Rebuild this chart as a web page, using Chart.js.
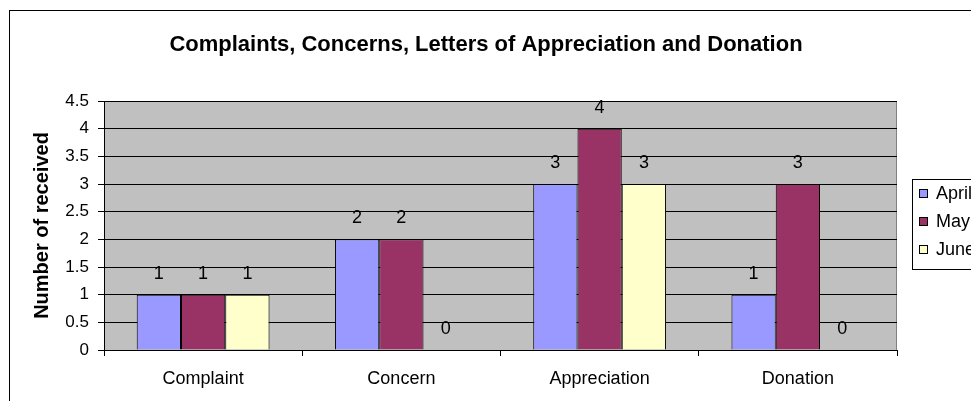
<!DOCTYPE html>
<html>
<head>
<meta charset="utf-8">
<script src="https://cdn.jsdelivr.net/npm/chart.js@4"></script>
<style>
  html, body { margin: 0; padding: 0; background: #fff; overflow: hidden; }
</style>
</head>
<body>
<canvas id="chart" width="971" height="401"></canvas>
<script>
// chart values
var categories = ['Complaint', 'Concern', 'Appreciation', 'Donation'];
var seriesNames = ['April', 'May', 'June'];
var aprilValues = [1, 2, 3, 1];
var mayValues = [1, 2, 4, 3];
var juneValues = [1, 0, 3, 0];
var yTicks = [0, 0.5, 1, 1.5, 2, 2.5, 3, 3.5, 4, 4.5];

var chartTitle = 'Complaints, Concerns, Letters of Appreciation and Donation';
var yTitle = 'Number of received';
var seriesColors = ['#9999FF', '#993366', '#FFFFCC'];
var fontFamily = '"Liberation Sans", Arial, sans-serif';

// background, plot area, title, value labels and the legend box
var excelLook = {
  id: 'excelLook',
  beforeDraw: function(chart) {
    var ctx = chart.ctx;
    var a = chart.chartArea;
    ctx.save();
    ctx.fillStyle = '#fff';
    ctx.fillRect(0, 0, chart.width, chart.height);
    ctx.strokeStyle = '#000';
    ctx.lineWidth = 1;
    ctx.strokeRect(9.5, 10.5, 2000, 2000);
    ctx.fillStyle = '#C0C0C0';
    ctx.fillRect(a.left, a.top, a.right - a.left, a.bottom - a.top);
    ctx.strokeStyle = '#808080';
    ctx.strokeRect(a.left + 0.5, a.top + 0.5, a.right - a.left - 1, a.bottom - a.top);
    ctx.restore();
  },
  afterDatasetsDraw: function(chart) {
    var ctx = chart.ctx;
    ctx.save();
    ctx.fillStyle = '#000';
    ctx.font = '18px ' + fontFamily;
    ctx.textAlign = 'center';
    ctx.textBaseline = 'middle';
    chart.data.datasets.forEach(function(ds, i) {
      chart.getDatasetMeta(i).data.forEach(function(bar, j) {
        ctx.fillText(String(ds.data[j]), bar.x, bar.y - 21);
      });
    });
    ctx.restore();
  },
  afterDraw: function(chart) {
    var ctx = chart.ctx;
    ctx.save();
    ctx.fillStyle = '#000';
    ctx.font = 'bold 22px ' + fontFamily;
    ctx.textAlign = 'center';
    ctx.textBaseline = 'middle';
    ctx.fillText(chartTitle, 486, 45);

    // legend
    ctx.strokeStyle = '#000';
    ctx.lineWidth = 1;
    ctx.fillStyle = '#fff';
    ctx.fillRect(912.5, 179.5, 100, 90);
    ctx.strokeRect(912.5, 179.5, 100, 90);
    ctx.font = '18px ' + fontFamily;
    ctx.textAlign = 'left';
    chart.data.datasets.forEach(function(ds, i) {
      var y = 194 + i * 28;
      ctx.fillStyle = ds.backgroundColor;
      ctx.fillRect(919.5, y - 4.5, 8, 8);
      ctx.strokeRect(919.5, y - 4.5, 8, 8);
      ctx.fillStyle = '#000';
      ctx.fillText(ds.label, 936, y);
    });
    ctx.restore();
  }
};

var datasets = [aprilValues, mayValues, juneValues].map(function(vals, i) {
  return {
    label: seriesNames[i],
    data: vals,
    backgroundColor: seriesColors[i],
    borderColor: '#000',
    borderWidth: 1,
    categoryPercentage: 0.67,
    barPercentage: 1.0
  };
});

new Chart(document.getElementById('chart'), {
  type: 'bar',
  data: { labels: categories, datasets: datasets },
  options: {
    responsive: false,
    animation: false,
    devicePixelRatio: 1,
    layout: { padding: { left: 0, top: 101, right: 74, bottom: 0 } },
    plugins: {
      legend: { display: false },
      title: { display: false },
      tooltip: { enabled: false }
    },
    scales: {
      x: {
        afterFit: function(scale) { scale.height = 51; },
        grid: { offset: true, drawOnChartArea: false, color: '#000', tickLength: 6 },
        border: { color: '#000' },
        ticks: { color: '#000', padding: 12, font: { family: fontFamily, size: 18 } }
      },
      y: {
        min: 0,
        max: 4.5,
        afterFit: function(scale) { scale.width = 104; },
        afterBuildTicks: function(scale) {
          scale.ticks = yTicks.map(function(v) { return { value: v }; });
        },
        grid: { color: '#000', tickLength: 6 },
        border: { color: '#000' },
        ticks: {
          color: '#000',
          padding: 9,
          font: { family: fontFamily, size: 17 },
          callback: function(v) { return String(v); }
        },
        title: {
          display: true,
          text: yTitle,
          color: '#000',
          padding: { top: 30, bottom: 0 },
          font: { family: fontFamily, size: 20, weight: 'bold' }
        }
      }
    }
  },
  plugins: [excelLook]
});
</script>
</body>
</html>
